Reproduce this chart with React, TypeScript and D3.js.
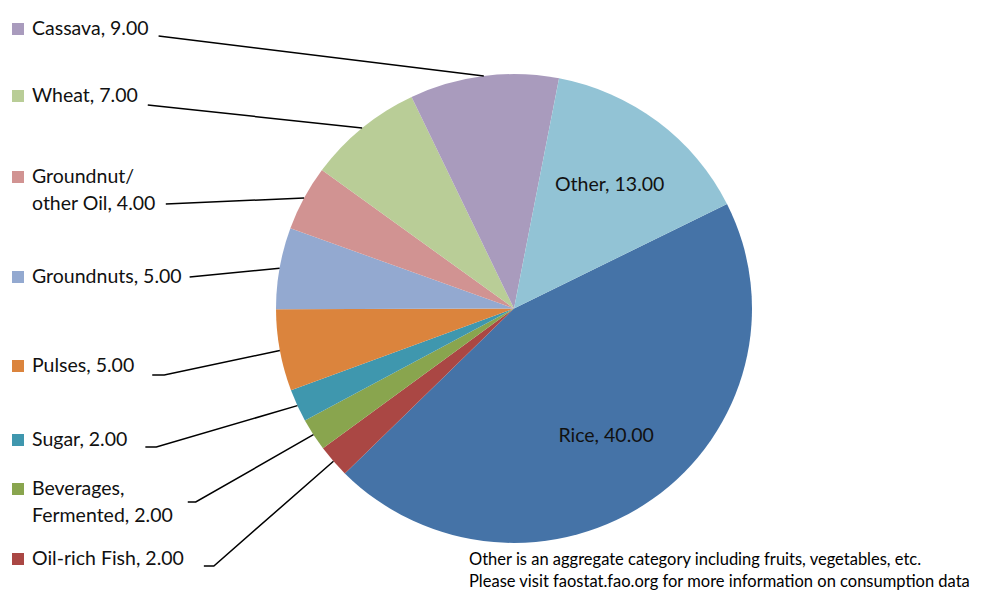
import React from "react";
import * as d3 from "d3";

// ---- data ----
const categories = [
  "Rice",
  "Oil-rich Fish",
  "Beverages,\nFermented",
  "Sugar",
  "Pulses",
  "Groundnuts",
  "Groundnut/\nother Oil",
  "Wheat",
  "Cassava",
  "Other",
];
const values = [40, 2, 2, 2, 5, 5, 4, 7, 9, 13];
const colors = [
  "#4573a7",
  "#aa4744",
  "#89a54e",
  "#3f97ae",
  "#db843d",
  "#93a9d0",
  "#d19392",
  "#b9cd97",
  "#a99bbd",
  "#92c3d5",
];
const insideLabels = ["Rice", "Other"];
const footnotes = [
  "Other is an aggregate category including fruits, vegetables, etc.",
  "Please visit faostat.fao.org for more information on consumption data",
];

// ---- layout (outside label rows, in order top to bottom) ----
const outsideLayout = [
  { cat: "Cassava", y: 35, lineDy: 1, gap: 10, stub: 0 },
  { cat: "Wheat", y: 102, lineDy: 3, gap: 10, stub: 0 },
  { cat: "Groundnut/\nother Oil", y: 183, lineDy: 21, gap: 10, stub: 0 },
  { cat: "Groundnuts", y: 283, lineDy: -6, gap: 8, stub: 0 },
  { cat: "Pulses", y: 372, lineDy: 3, gap: 18, stub: 12 },
  { cat: "Sugar", y: 446, lineDy: 1, gap: 18, stub: 11 },
  { cat: "Beverages,\nFermented", y: 495, lineDy: 7, gap: 15, stub: 8 },
  { cat: "Oil-rich Fish", y: 565, lineDy: 1, gap: 20, stub: 10 },
];

const W = 990;
const H = 591;
const cx = 514;
const cy = 308.5;
const R = 238;
const ky = 0.985;
const FONT = "Lato, 'Open Sans', sans-serif";
const LABEL_SIZE = 19.5;
const NOTE_SIZE = 16.5;
const LINE_H = 26.5;

let ctx: CanvasRenderingContext2D | null = null;
function measure(text: string, size: number) {
  if (!ctx) ctx = document.createElement("canvas").getContext("2d");
  if (!ctx) return text.length * size * 0.5;
  ctx.font = `${size}px Lato`;
  return ctx.measureText(text).width;
}

export default function App() {
  const pie = d3
    .pie<number>()
    .sort(null)
    .value((d) => d)
    .startAngle((63.5 * Math.PI) / 180)
    .endAngle((63.5 * Math.PI) / 180 + 2 * Math.PI);
  const arcs = pie(values);
  const arc = d3.arc<d3.PieArcDatum<number>>().innerRadius(0).outerRadius(R);
  const edgeArc = d3.arc<d3.PieArcDatum<number>>().innerRadius(R).outerRadius(R);
  const inArc = d3
    .arc<d3.PieArcDatum<number>>()
    .innerRadius(R * 0.665)
    .outerRadius(R * 0.665);

  const labelText = (i: number) =>
    `${categories[i]}, ${values[i].toFixed(2)}`.split("\n");

  return (
    <svg
      width={W}
      height={H}
      style={{ position: "absolute", left: 0, top: 0, background: "#fff" }}
      fontFamily={FONT}
    >
      <g transform={`translate(${cx},${cy}) scale(1,${ky})`}>
        {arcs.map((a, i) => (
          <path key={i} d={arc(a) || ""} fill={colors[i]} />
        ))}
      </g>
      {arcs.map((a, i) => {
        if (!insideLabels.includes(categories[i])) return null;
        const [x, y] = inArc.centroid(a);
        return (
          <text
            key={"in" + i}
            x={cx + x}
            y={cy + y * ky + 7}
            textAnchor="middle"
            fontSize={LABEL_SIZE}
            fill="#111"
          >
            {labelText(i).join(" ")}
          </text>
        );
      })}
      {outsideLayout.map((L) => {
        const i = categories.indexOf(L.cat);
        const lines = labelText(i);
        const tw = Math.max(...lines.map((t) => measure(t, LABEL_SIZE)));
        const lastW = measure(lines[lines.length - 1], LABEL_SIZE);
        const textX = 32;
        const endX = textX + (L.lineDy > 10 ? lastW : tw);
        const [ex, ey] = edgeArc.centroid(arcs[i]);
        const x0 = endX + L.gap;
        const ly = L.y + L.lineDy;
        const pts: [number, number][] = [[x0, ly]];
        if (L.stub) pts.push([x0 + L.stub, ly]);
        pts.push([cx + ex, cy + ey * ky]);
        return (
          <g key={"out" + i}>
            <rect x={12} y={L.y - 12} width={12} height={12} fill={colors[i]} />
            <text x={textX} y={L.y} fontSize={LABEL_SIZE} fill="#111">
              {lines.map((t, k) => (
                <tspan key={k} x={textX} y={L.y + k * LINE_H}>
                  {t}
                </tspan>
              ))}
            </text>
            <path
              d={d3.line()(pts) || ""}
              fill="none"
              stroke="#000"
              strokeWidth={1.5}
            />
          </g>
        );
      })}
      {footnotes.map((t, k) => (
        <text
          key={"fn" + k}
          x={469}
          y={565 + k * 22}
          fontSize={NOTE_SIZE}
          fill="#000"
        >
          {t}
        </text>
      ))}
    </svg>
  );
}
